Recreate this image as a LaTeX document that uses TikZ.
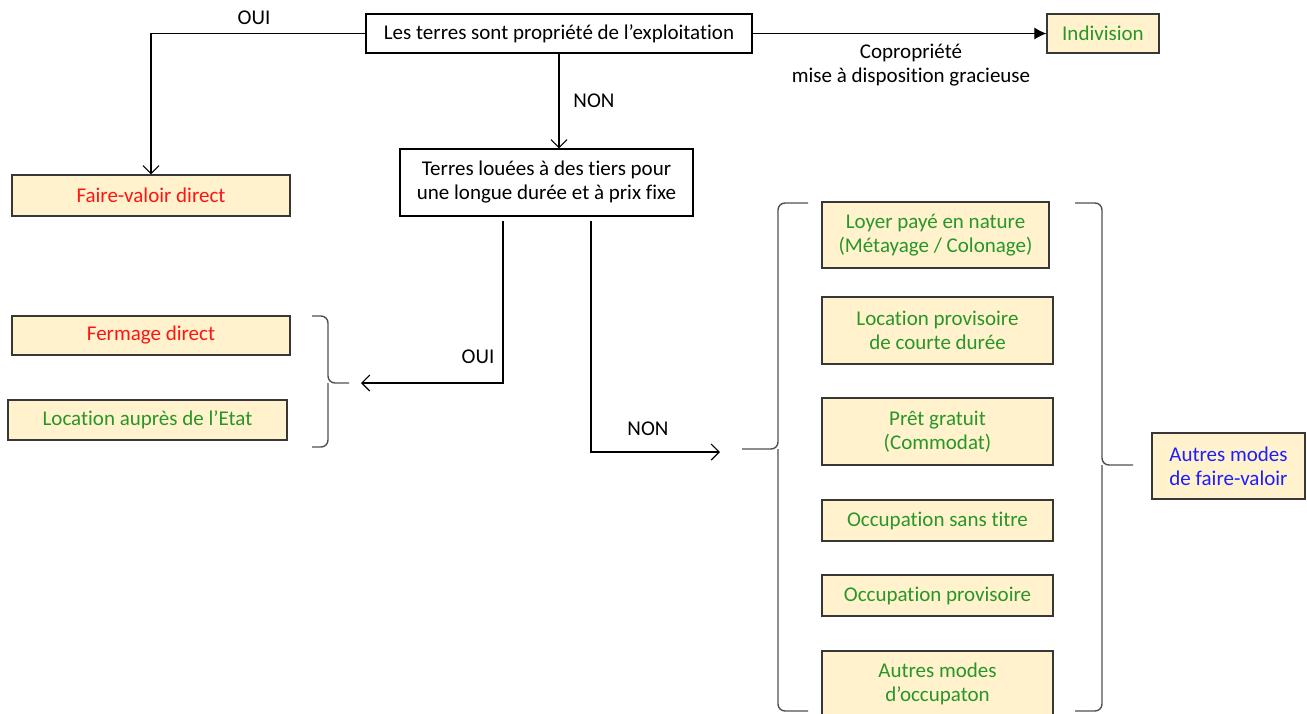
\documentclass[tikz,border=0pt]{standalone}
\usepackage{fontspec}
\setmainfont{Carlito}[Ligatures=NoCommon]
\usetikzlibrary{positioning, arrows.meta}
\definecolor{boxfill}{RGB}{255,242,204}
\definecolor{txtred}{RGB}{255,20,20}
\definecolor{txtgreen}{RGB}{40,150,40}
\definecolor{txtblue}{RGB}{30,30,255}
\definecolor{bracegray}{RGB}{80,80,80}
\definecolor{boxline}{RGB}{55,55,55}

\begin{document}
\begin{tikzpicture}[x=1pt,y=-1pt,font=\fontsize{21}{24}\selectfont,
    every node/.style={inner sep=0pt, align=center},
    question/.style={draw=black, fill=white, line width=1.2pt},
    mode/.style={draw=boxline, fill=boxfill, line width=1.2pt},
    autre/.style={mode, text=txtgreen, minimum width=231},
    openarrow/.style={line width=1.1pt, -{Straight Barb[length=8pt,width=16pt,line width=1.1pt]}},
    accolade/.style={draw=bracegray, line width=1.4pt, rounded corners=7}]
    \clip (0,0) rectangle (1307,713);
    % questions
    \node[question, minimum width=386, minimum height=39] (prop) at (559,33.5) {Les terres sont propriété de l’exploitation};
    \node[question, minimum width=293, minimum height=67] (loue) at (546.5,182.5) {Terres louées à des tiers pour\\une longue durée et à prix fixe};
    % answers
    \node[mode, text=txtred, minimum width=278, minimum height=41] (fvd) at (151,195.5) {Faire-valoir direct};
    \node[mode, text=txtgreen, minimum width=112, minimum height=39] (indiv) at (1103,33.5) {Indivision};
    \node[mode, text=txtred, minimum width=278, minimum height=39] (fermage) at (151,335.5) {Fermage direct};
    \node[mode, text=txtgreen, minimum width=279, minimum height=40] (etat) at (147.5,420) {Location auprès de l’Etat};
    \node[autre, minimum width=227, minimum height=66] (loyer) at (935.5,235) {Loyer payé en nature\\(Métayage / Colonage)};
    \node[autre, minimum height=67] (courte) at (937.5,330.5) {Location provisoire\\de courte durée};
    \node[autre, minimum height=67] (pret) at (937.5,431.5) {Prêt gratuit\\(Commodat)};
    \node[autre, minimum height=41] (sanstitre) at (937.5,520.5) {Occupation sans titre};
    \node[autre, minimum height=41] (provis) at (937.5,595.5) {Occupation provisoire};
    \node[autre, minimum height=66] (occup) at (937.5,684) {Autres modes\\d’occupaton};
    \node[mode, text=txtblue, minimum width=153, minimum height=66] (afv) at (1228.5,466) {Autres modes\\de faire-valoir};
    % labels
    \node (oui1) at (254,18) {OUI};
    \node (non1) at (594,101) {NON};
    \node (copro) at (911,65) {Copropriété\\mise à disposition gracieuse};
    \node (oui2) at (478,357) {OUI};
    \node (non2) at (648,429) {NON};
    % connectors
    \coordinate (oui2s) at (503,221);
    \coordinate (non2s) at (591,221);
    \coordinate (gauche) at (361,383);
    \coordinate (droite) at (720,452);
    \draw[openarrow] (prop.west) -| (fvd.north);
    \draw[line width=1.1pt, -{Latex[length=12pt,width=12pt]}] (prop.east) -- (indiv.west);
    \draw[openarrow] (prop.south) -- (prop.south |- loue.north);
    \draw[openarrow] (oui2s) |- (gauche);
    \draw[openarrow] (non2s) |- (droite);
    % braces
    \draw[accolade] (312,316) -- (328,316) -- (328,383) -- (349,383);
    \draw[accolade] (312,447) -- (328,447) -- (328,383);
    \draw[accolade] (808,203) -- (778,203) -- (778,449) -- (742,449);
    \draw[accolade] (808,711) -- (778,711) -- (778,449);
    \draw[accolade] (1075,203) -- (1102,203) -- (1102,465) -- (1133,465);
    \draw[accolade] (1075,711) -- (1102,711) -- (1102,465);
\end{tikzpicture}
\end{document}
